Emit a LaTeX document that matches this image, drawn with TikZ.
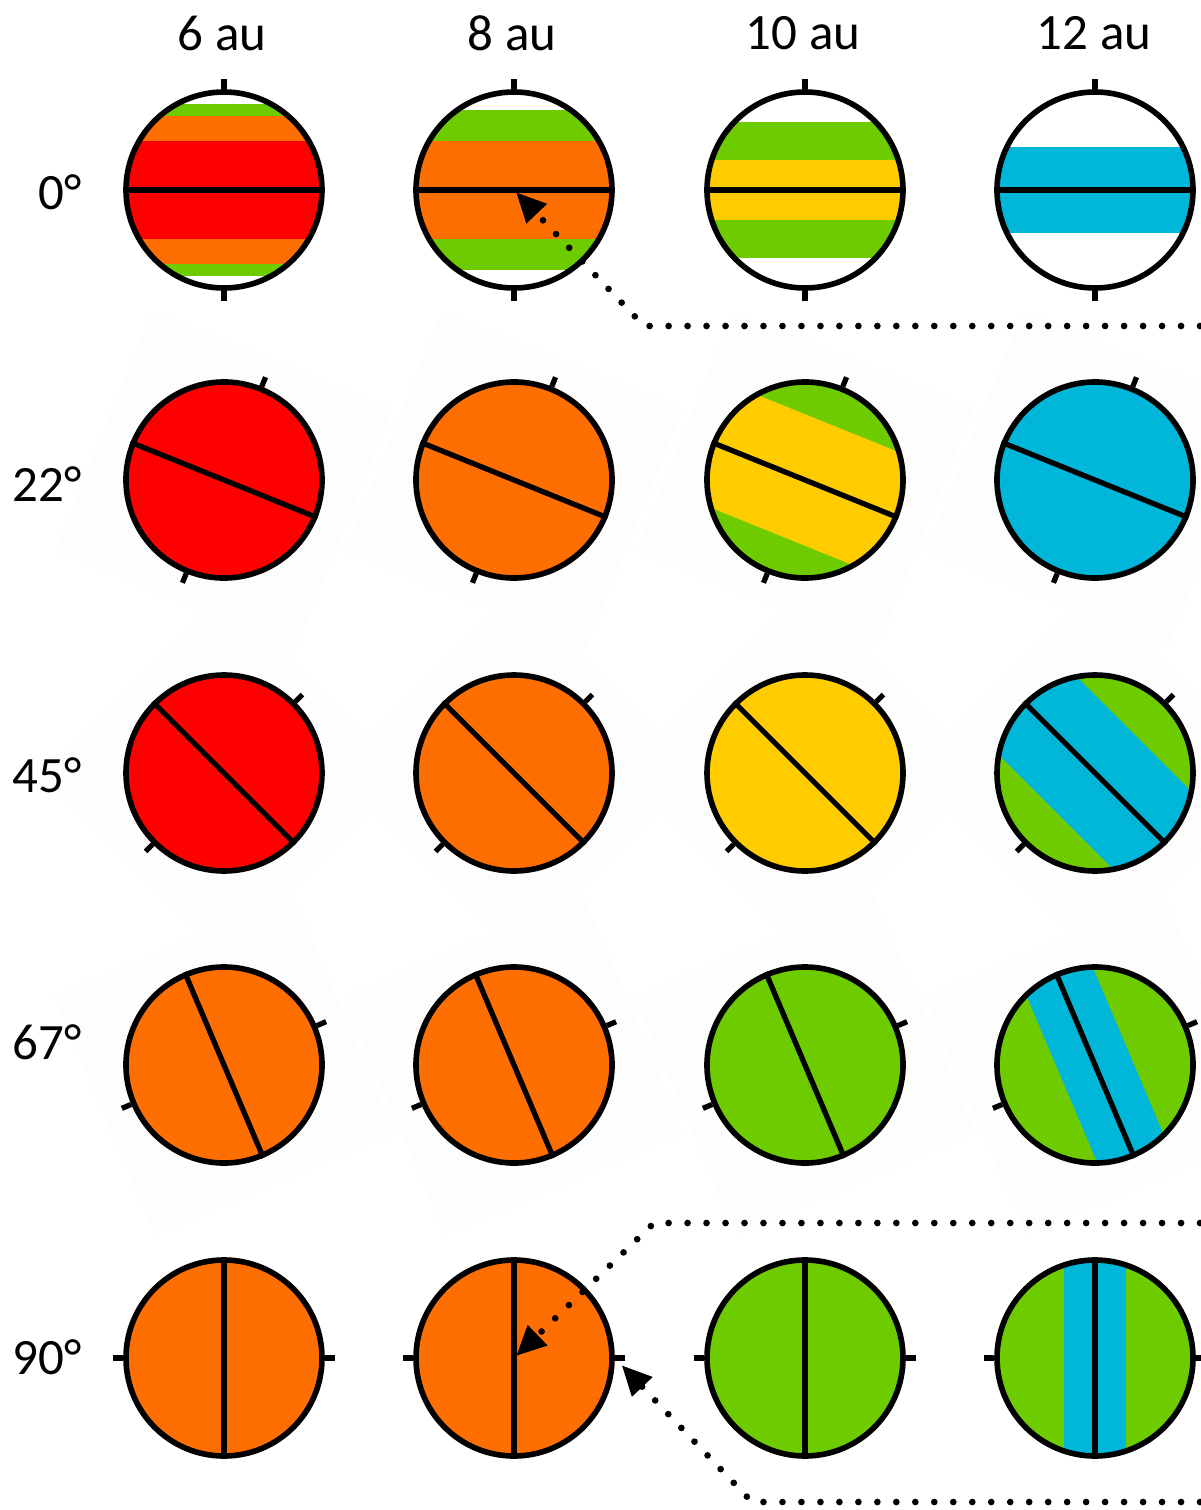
\documentclass[tikz,border=0pt]{standalone}
\usepackage{fontspec}
\setmainfont{Carlito}
\usepackage{tikz}
\usetikzlibrary{arrows.meta,calc,positioning}
\definecolor{plred}{RGB}{255,0,0}
\definecolor{plorange}{RGB}{255,110,0}
\definecolor{plgreen}{RGB}{110,203,0}
\definecolor{plyellow}{RGB}{255,204,0}
\definecolor{plblue}{RGB}{0,183,217}
\tikzset{
  disc/.style={
    circle, draw=black, line width=1.6pt,
    minimum size=1.96cm, inner sep=0pt
  },
  discaxis/.style={line width=1.5pt, black},
  backsq/.style={fill=black!0.6},
  colhead/.style={font=\fontsize{14.5}{17}\selectfont, inner sep=0pt},
  rowhead/.style={
    font=\fontsize{14.5}{17}\selectfont, inner sep=0pt, anchor=east
  },
  dotlink/.style={
    line width=1.9pt, line cap=round, dash pattern=on 0pt off 5.4pt,
    -{Triangle[length=8.5pt,width=7.6pt]}
  }
}
% name, centre, tilt, base colour, bands
\newcommand{\planetdisc}[5]{%
  \begin{scope}[shift={#2}, rotate=-#3]
    \clip (0,0) circle (0.98);
    \fill[#4] (-1,-1) rectangle (1,1);
    #5
  \end{scope}
  \node[disc, rotate=-#3] (#1) at #2 {};
  \draw[discaxis] (#1.west) -- (#1.east);
  \draw[discaxis] (#1.north) -- ($(#1.center)!1.1!(#1.north)$);
  \draw[discaxis] (#1.south) -- ($(#1.center)!1.1!(#1.south)$);
}

\begin{document}
\begin{tikzpicture}
  \useasboundingbox (0,0) rectangle (12,-15.10);

  % Backdrops of the tilted rows
  \fill[backsq, shift={(2.24,-4.80)}, rotate=-22] (-1.3,-1.3) rectangle (1.3,1.3);
  \fill[backsq, shift={(5.14,-4.80)}, rotate=-22] (-1.3,-1.3) rectangle (1.3,1.3);
  \fill[backsq, shift={(8.05,-4.80)}, rotate=-22] (-1.3,-1.3) rectangle (1.3,1.3);
  \fill[backsq, shift={(10.95,-4.80)}, rotate=-22] (-1.3,-1.3) rectangle (1.3,1.3);
  \fill[backsq, shift={(2.24,-7.73)}, rotate=-45] (-1.3,-1.3) rectangle (1.3,1.3);
  \fill[backsq, shift={(5.14,-7.73)}, rotate=-45] (-1.3,-1.3) rectangle (1.3,1.3);
  \fill[backsq, shift={(8.05,-7.73)}, rotate=-45] (-1.3,-1.3) rectangle (1.3,1.3);
  \fill[backsq, shift={(10.95,-7.73)}, rotate=-45] (-1.3,-1.3) rectangle (1.3,1.3);
  \fill[backsq, shift={(2.24,-10.65)}, rotate=-67] (-1.3,-1.3) rectangle (1.3,1.3);
  \fill[backsq, shift={(5.14,-10.65)}, rotate=-67] (-1.3,-1.3) rectangle (1.3,1.3);
  \fill[backsq, shift={(8.05,-10.65)}, rotate=-67] (-1.3,-1.3) rectangle (1.3,1.3);
  \fill[backsq, shift={(10.95,-10.65)}, rotate=-67] (-1.3,-1.3) rectangle (1.3,1.3);

  % Headers
  \node[colhead] (h6)  at (2.22,-0.33)  {6 au};
  \node[colhead] (h8)  at (5.12,-0.33)  {8 au};
  \node[colhead] (h10) at (8.03,-0.33)  {10 au};
  \node[colhead] (h12) at (10.94,-0.33) {12 au};
  \node[rowhead] (r0)  at (0.82,-1.92)  {0°};
  \node[rowhead] (r22) at (0.82,-4.84)  {22°};
  \node[rowhead] (r45) at (0.82,-7.75)  {45°};
  \node[rowhead] (r67) at (0.82,-10.42) {67°};
  \node[rowhead] (r90) at (0.82,-13.57) {90°};

  % 0 deg
  \planetdisc{d6a0}{(2.24,-1.90)}{0}{white}{%
    \fill[plgreen] (-1,-0.86) rectangle (1,0.86);
    \fill[plorange] (-1,-0.74) rectangle (1,0.74);
    \fill[plred] (-1,-0.49) rectangle (1,0.49);}
  \planetdisc{d8a0}{(5.14,-1.90)}{0}{white}{%
    \fill[plgreen] (-1,-0.80) rectangle (1,0.80);
    \fill[plorange] (-1,-0.49) rectangle (1,0.49);}
  \planetdisc{d10a0}{(8.05,-1.90)}{0}{white}{%
    \fill[plgreen] (-1,-0.675) rectangle (1,0.675);
    \fill[plyellow] (-1,-0.30) rectangle (1,0.30);}
  \planetdisc{d12a0}{(10.95,-1.90)}{0}{white}{%
    \fill[plblue] (-1,-0.43) rectangle (1,0.43);}

  % 22 deg
  \planetdisc{d6a22}{(2.24,-4.80)}{22}{plred}{}
  \planetdisc{d8a22}{(5.14,-4.80)}{22}{plorange}{}
  \planetdisc{d10a22}{(8.05,-4.80)}{22}{plgreen}{%
    \fill[plyellow] (-1,-0.61) rectangle (1,0.61);}
  \planetdisc{d12a22}{(10.95,-4.80)}{22}{plblue}{}

  % 45 deg
  \planetdisc{d6a45}{(2.24,-7.73)}{45}{plred}{}
  \planetdisc{d8a45}{(5.14,-7.73)}{45}{plorange}{}
  \planetdisc{d10a45}{(8.05,-7.73)}{45}{plyellow}{}
  \planetdisc{d12a45}{(10.95,-7.73)}{45}{plgreen}{%
    \fill[plblue] (-1,-0.55) rectangle (1,0.55);}

  % 67 deg
  \planetdisc{d6a67}{(2.24,-10.65)}{67}{plorange}{}
  \planetdisc{d8a67}{(5.14,-10.65)}{67}{plorange}{}
  \planetdisc{d10a67}{(8.05,-10.65)}{67}{plgreen}{}
  \planetdisc{d12a67}{(10.95,-10.65)}{67}{plgreen}{%
    \fill[plblue] (-1,-0.36) rectangle (1,0.36);}

  % 90 deg
  \planetdisc{d6a90}{(2.24,-13.58)}{90}{plorange}{}
  \planetdisc{d8a90}{(5.14,-13.58)}{90}{plorange}{}
  \planetdisc{d10a90}{(8.05,-13.58)}{90}{plgreen}{}
  \planetdisc{d12a90}{(10.95,-13.58)}{90}{plgreen}{%
    \fill[plblue] (-1,-0.31) rectangle (1,0.31);}

  % Dotted links (d8a90 is turned, its north anchor faces right)
  \coordinate (edgeA) at (12,-3.26);
  \coordinate (bendA) at (6.44,-3.26);
  \draw[dotlink, shorten >=0.03cm] (edgeA) -- (bendA) -- (d8a0.center);

  \coordinate (edgeB) at (12,-12.23);
  \coordinate (bendB) at (6.54,-12.23);
  \draw[dotlink, shorten >=0.03cm] (edgeB) -- (bendB) -- (d8a90.center);

  \coordinate (edgeC) at (12,-15.02);
  \coordinate (bendC) at (7.52,-15.02);
  \draw[dotlink, shorten >=0.1cm] (edgeC) -- (bendC) -- (d8a90.north);
\end{tikzpicture}
\end{document}
